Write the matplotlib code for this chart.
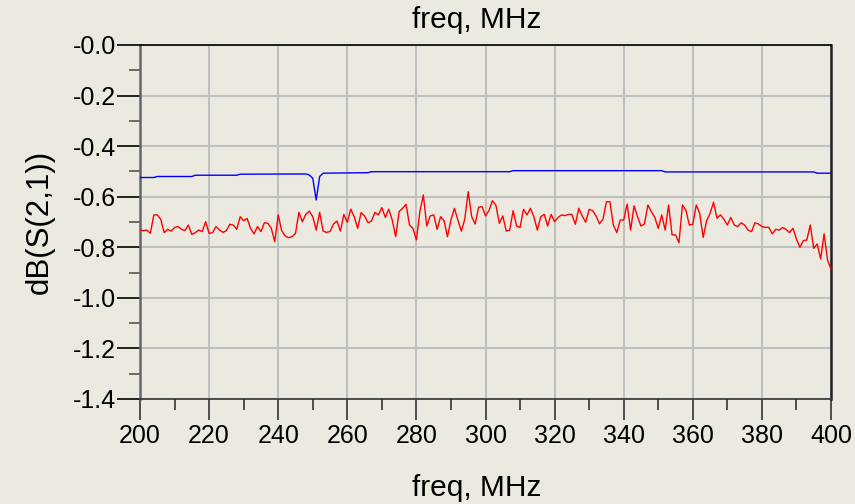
import matplotlib
matplotlib.use("Agg")
import matplotlib.pyplot as plt
import numpy as np
from matplotlib.ticker import MultipleLocator

plt.rcParams['font.family'] = ['Liberation Sans', 'DejaVu Sans']

# ---- data ----
freq_red = list(range(200, 401))
s21_red = [
    -0.732, -0.734, -0.732, -0.745, -0.672, -0.672, -0.689, -0.742, -0.729, -0.736,  # 200-209
    -0.722, -0.718, -0.729, -0.734, -0.712, -0.749, -0.742, -0.732, -0.738, -0.699,  # 210-219
    -0.745, -0.742, -0.718, -0.732, -0.741, -0.734, -0.709, -0.712, -0.729, -0.679,  # 220-229
    -0.695, -0.686, -0.725, -0.747, -0.718, -0.738, -0.703, -0.705, -0.725, -0.778,  # 230-239
    -0.672, -0.734, -0.755, -0.762, -0.758, -0.745, -0.662, -0.699, -0.670, -0.657,  # 240-249
    -0.679, -0.732, -0.662, -0.736, -0.741, -0.738, -0.708, -0.696, -0.736, -0.670,  # 250-259
    -0.701, -0.649, -0.679, -0.725, -0.663, -0.676, -0.703, -0.696, -0.662, -0.672,  # 260-269
    -0.643, -0.682, -0.649, -0.692, -0.758, -0.659, -0.646, -0.630, -0.712, -0.725,  # 270-279
    -0.771, -0.659, -0.593, -0.716, -0.676, -0.672, -0.729, -0.679, -0.695, -0.758,  # 280-289
    -0.692, -0.646, -0.692, -0.736, -0.689, -0.580, -0.679, -0.708, -0.642, -0.639,  # 290-299
    -0.676, -0.655, -0.616, -0.633, -0.705, -0.676, -0.736, -0.732, -0.655, -0.716,  # 300-309
    -0.722, -0.650, -0.672, -0.646, -0.679, -0.732, -0.679, -0.670, -0.716, -0.670,  # 310-319
    -0.699, -0.682, -0.672, -0.675, -0.670, -0.670, -0.709, -0.646, -0.676, -0.701,  # 320-329
    -0.650, -0.655, -0.676, -0.707, -0.689, -0.620, -0.620, -0.712, -0.742, -0.692,  # 330-339
    -0.692, -0.629, -0.732, -0.636, -0.679, -0.716, -0.708, -0.633, -0.659, -0.682,  # 340-349
    -0.725, -0.672, -0.732, -0.633, -0.751, -0.751, -0.782, -0.633, -0.653, -0.712,  # 350-359
    -0.709, -0.633, -0.666, -0.761, -0.695, -0.666, -0.622, -0.685, -0.672, -0.689,  # 360-369
    -0.712, -0.682, -0.712, -0.718, -0.703, -0.712, -0.732, -0.738, -0.703, -0.708,  # 370-379
    -0.718, -0.721, -0.721, -0.747, -0.729, -0.732, -0.722, -0.729, -0.742, -0.725,  # 380-389
    -0.768, -0.800, -0.774, -0.771, -0.712, -0.804, -0.787, -0.846, -0.747, -0.850,  # 390-399
    -0.887,                                                                          # 400
]

freq_blue = [200, 204, 205, 215, 216, 228, 229, 248, 249, 250, 251, 252, 253,
             266, 267, 307, 308, 351, 352, 395, 396, 400]
s21_blue = [-0.524, -0.524, -0.520, -0.520, -0.515, -0.515, -0.511, -0.510,
            -0.514, -0.527, -0.613, -0.520, -0.507, -0.505, -0.501, -0.501,
            -0.497, -0.497, -0.502, -0.502, -0.507, -0.507]

x_ticks = list(range(200, 401, 20))
y_ticks = [0.0, -0.2, -0.4, -0.6, -0.8, -1.0, -1.2, -1.4]
y_tick_labels = ["-0.0", "-0.2", "-0.4", "-0.6", "-0.8", "-1.0", "-1.2", "-1.4"]

# ---- figure ----
bg = '#ECE9E0'
W, H = 855, 504
fig = plt.figure(figsize=(W / 100, H / 100), dpi=100, facecolor=bg)
ax = fig.add_axes([140 / W, 1 - 399 / H, (831 - 140) / W, (399 - 45) / H])
ax.set_facecolor(bg)

ax.plot(freq_red, s21_red, color='#FF0000', lw=1.0, zorder=3)
ax.plot(freq_blue, s21_blue, color='#0000FF', lw=1.0, zorder=3)

ax.set_xlim(200, 400)
ax.set_ylim(-1.4, 0.0)

ax.set_xticks(x_ticks)
ax.set_xticklabels([str(v) for v in x_ticks])
ax.set_yticks(y_ticks)
ax.set_yticklabels(y_tick_labels)
ax.xaxis.set_minor_locator(MultipleLocator(10))
ax.yaxis.set_minor_locator(MultipleLocator(0.1))

ax.grid(True, which='major', color='#C0C0C0', lw=1.5, zorder=0)
ax.set_axisbelow(True)

ax.tick_params(axis='y', which='major', direction='out', length=16.5, width=1.2,
               color='black', labelsize=18, pad=1)
ax.tick_params(axis='y', which='minor', direction='out', length=8, width=1.2,
               color='#555555')
ax.tick_params(axis='x', which='major', direction='out', length=15, width=1.2,
               color='#333333', labelsize=18, pad=3)
ax.tick_params(axis='x', which='minor', direction='out', length=8, width=1.2,
               color='#333333')

ax.spines['left'].set_color('#666666')
ax.spines['left'].set_linewidth(1.8)
ax.spines['top'].set_color('black')
ax.spines['top'].set_linewidth(1.2)
ax.spines['right'].set_color('#222222')
ax.spines['right'].set_linewidth(1.8)
ax.spines['bottom'].set_color('#333333')
ax.spines['bottom'].set_linewidth(1.2)

fig.text(477 / W, 1 - 20 / H, 'freq, MHz', ha='center', va='center', fontsize=21.5)
fig.text(477 / W, 1 - 488 / H, 'freq, MHz', ha='center', va='center', fontsize=21.5)
fig.text(40 / W, 1 - 222 / H, 'dB(S(2,1))', ha='center', va='center', fontsize=22.5,
         rotation=90)

fig.savefig('out.png', dpi=100, facecolor=bg)
